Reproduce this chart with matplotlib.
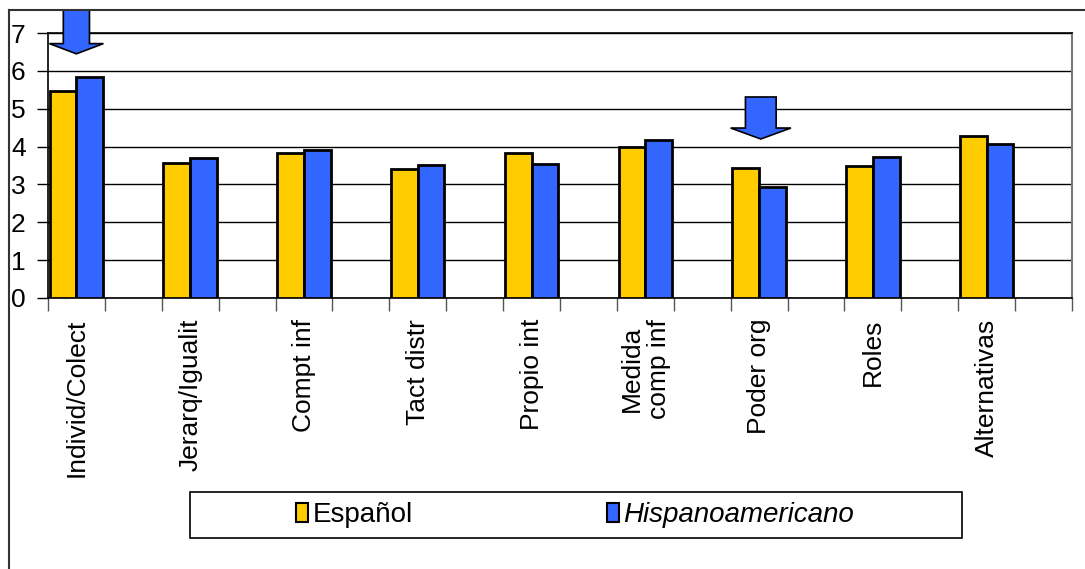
import numpy as np
import matplotlib.pyplot as plt
from matplotlib.patches import Polygon, Rectangle
from matplotlib.lines import Line2D

plt.rcParams['font.family'] = ['Liberation Sans', 'DejaVu Sans']

categories = ["Individ/Colect", "Jerarq/Igualit", "Compt inf", "Tact distr",
              "Propio int", "Medida\ncomp inf", "Poder org", "Roles", "Alternativas"]
espanol = [5.48, 3.56, 3.84, 3.41, 3.83, 3.98, 3.43, 3.48, 4.29]
hispano = [5.84, 3.71, 3.91, 3.51, 3.54, 4.18, 2.94, 3.72, 4.06]

yellow = "#FFCC00"
blue = "#3366FF"

fig = plt.figure(figsize=(10.85, 5.69), dpi=100)
ax = fig.add_axes([0.0442, 0.4763, 0.9438, 0.4657])

# each category takes two slots, bars sit in the first one
x = np.arange(len(categories)) * 2
w = 0.47
ax.bar(x + 0.03, espanol, w, align="edge", color=yellow, edgecolor="black", linewidth=2, zorder=3)
ax.bar(x + 0.03 + w, hispano, w, align="edge", color=blue, edgecolor="black", linewidth=2, zorder=3)

ax.set_xlim(0, 2 * len(categories))
ax.set_ylim(0, 7)
ax.set_yticks(range(8))
ax.yaxis.grid(True, color="black", linewidth=1.0, zorder=0)
ax.set_xticks(np.arange(0, 2 * len(categories) + 1))
ax.set_xticklabels([])
ax.set_xticks(x + 0.5, minor=True)
ax.set_xticklabels(categories, minor=True, rotation=90, fontsize=19,
                   va="top", ha="center", linespacing=1.15)
ax.tick_params(axis="x", which="minor", length=0, pad=15)
ax.tick_params(axis="x", which="major", length=9, width=1, color="#555555")
ax.tick_params(axis="y", length=8, width=1, labelsize=19, pad=8)
for s in ["top", "bottom", "left"]:
    ax.spines[s].set_color("black")
    ax.spines[s].set_linewidth(1.2)
ax.spines["right"].set_color("#777777")
ax.spines["right"].set_linewidth(1.5)

# highlight arrows over Individ/Colect and Poder org
def down_arrow(xc, tip, top, shaft_w, head_w, head_h):
    pts = [(xc - shaft_w / 2, top), (xc + shaft_w / 2, top),
           (xc + shaft_w / 2, tip + head_h), (xc + head_w / 2, tip + head_h),
           (xc, tip), (xc - head_w / 2, tip + head_h),
           (xc - shaft_w / 2, tip + head_h)]
    ax.add_patch(Polygon(pts, closed=True, facecolor=blue, edgecolor="black",
                         linewidth=1.2, clip_on=False, zorder=5))

down_arrow(x[0] + 0.5, 6.45, 7.61, 0.46, 0.95, 0.27)
down_arrow(x[6] + 0.53, 4.2, 5.31, 0.54, 1.06, 0.29)

# outer chart frame (top and left edges visible)
fig.add_artist(Line2D([9 / 1085, 1], [1 - 10 / 569, 1 - 10 / 569], color="#333333", lw=1.5))
fig.add_artist(Line2D([9 / 1085, 9 / 1085], [0, 1 - 10 / 569], color="#333333", lw=1.5))

# legend box
fig.add_artist(Rectangle((190 / 1085, 1 - 538 / 569), 772 / 1085, 46 / 569,
                         transform=fig.transFigure, facecolor="white",
                         edgecolor="black", linewidth=1.2))
handles = [plt.Rectangle((0, 0), 1, 1, facecolor=yellow, edgecolor="black", lw=1.5),
           plt.Rectangle((0, 0), 1, 1, facecolor=blue, edgecolor="black", lw=1.5)]
leg = fig.legend(handles, ["Español", "Hispanoamericano"], ncol=2,
                 loc="center", bbox_to_anchor=(575 / 1085, 1 - 515 / 569),
                 fontsize=20, frameon=False,
                 handlelength=0.45, handleheight=0.7, handletextpad=0.15,
                 columnspacing=7.0, borderpad=0.2)
leg.get_texts()[1].set_fontstyle("italic")

fig.savefig("out.png", dpi=100)
